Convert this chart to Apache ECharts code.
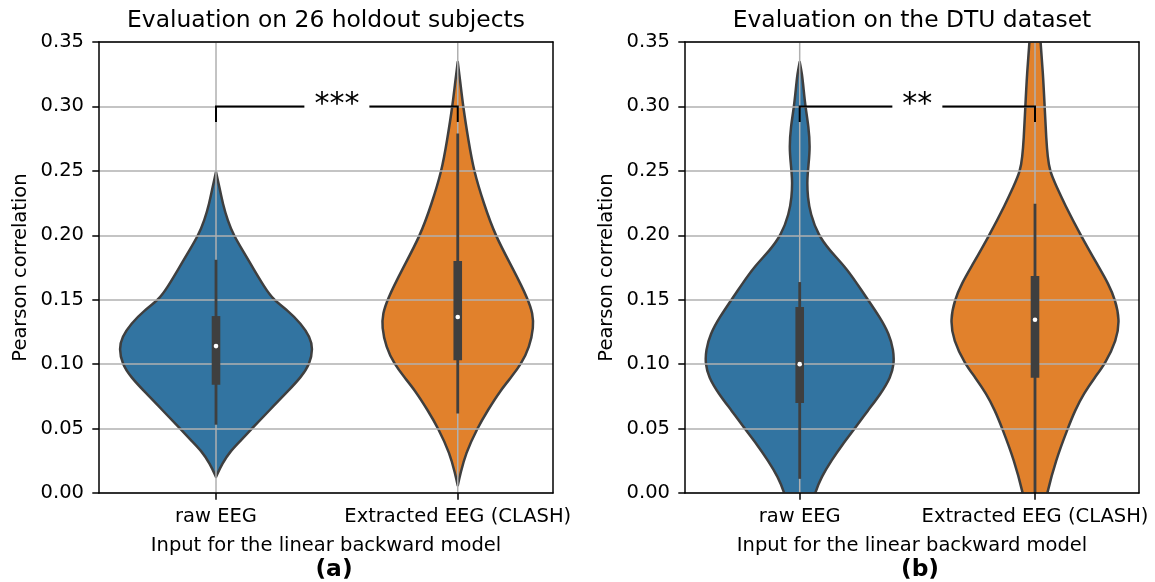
<!DOCTYPE html>
<html>
<head>
<meta charset="utf-8">
<script src="https://cdn.jsdelivr.net/npm/echarts@6/dist/echarts.min.js"></script>
<style>
html, body { margin: 0; padding: 0; background: #fff; }
#chart { width: 1155px; height: 582px; }
</style>
</head>
<body>
<div id="chart"></div>
<script>
var categories = ['raw EEG', 'Extracted EEG (CLASH)'];
var panelTitles = ['Evaluation on 26 holdout subjects', 'Evaluation on the DTU dataset'];
var panelTags = ['(a)', '(b)'];
var sigLabels = ['***', '**'];
var xName = 'Input for the linear backward model';
var yName = 'Pearson correlation';
var yMin = 0, yMax = 0.35, yStep = 0.05;
var bracketTop = 0.30, bracketFoot = 0.288;

// violin outline: [value, half width in category units]
var holdoutRaw = [[0.0124, 0], [0.0228, 0.025], [0.0331, 0.062], [0.0409, 0.103], [0.05, 0.149],
  [0.0642, 0.221], [0.0797, 0.301], [0.09, 0.352], [0.10, 0.388], [0.112, 0.401],
  [0.1211, 0.389], [0.1314, 0.352], [0.1417, 0.297], [0.15, 0.237], [0.1599, 0.200],
  [0.1728, 0.159], [0.1883, 0.110], [0.20, 0.073], [0.2116, 0.048], [0.2245, 0.028],
  [0.2375, 0.014], [0.2491, 0]];
var holdoutClash = [[0.0059, 0], [0.015, 0.011], [0.0305, 0.032], [0.05, 0.080], [0.0642, 0.124],
  [0.0797, 0.177], [0.09, 0.222], [0.10, 0.262], [0.1133, 0.297], [0.1288, 0.314],
  [0.1392, 0.310], [0.15, 0.292], [0.1728, 0.232], [0.20, 0.154], [0.2245, 0.108],
  [0.25, 0.066], [0.2737, 0.044], [0.30, 0.022], [0.3202, 0.0097], [0.3345, 0]];
var dtuRaw = [[-0.035, 0], [-0.02, 0.035], [0, 0.064], [0.0124, 0.092], [0.0253, 0.135],
  [0.0383, 0.184], [0.05, 0.234], [0.0641, 0.29], [0.0771, 0.345], [0.09, 0.387],
  [0.10, 0.401], [0.1107, 0.399], [0.1236, 0.380], [0.1366, 0.340], [0.15, 0.290],
  [0.1624, 0.244], [0.1754, 0.194], [0.1883, 0.127], [0.20, 0.079], [0.2168, 0.045],
  [0.2297, 0.034], [0.2426, 0.031], [0.2556, 0.038], [0.2685, 0.044], [0.284, 0.038],
  [0.30, 0.024], [0.3125, 0.017], [0.3254, 0.0099], [0.3345, 0]];
var dtuClash = [[-0.04, 0], [-0.02, 0.03], [0, 0.051], [0.0253, 0.088], [0.05, 0.139],
  [0.0641, 0.17], [0.0771, 0.207], [0.09, 0.255], [0.10, 0.297], [0.1185, 0.347],
  [0.1345, 0.360], [0.15, 0.341], [0.1624, 0.312], [0.1754, 0.271], [0.20, 0.194],
  [0.2245, 0.125], [0.2375, 0.092], [0.25, 0.062], [0.2608, 0.054], [0.2737, 0.048],
  [0.30, 0.041], [0.3254, 0.034], [0.3512, 0.023], [0.37, 0.016], [0.385, 0.008], [0.395, 0]];

// inner box: [lower whisker, q1, median, q3, upper whisker]
var holdoutRawBox = [0.053, 0.084, 0.114, 0.1373, 0.181];
var holdoutClashBox = [0.0616, 0.103, 0.1366, 0.180, 0.279];
var dtuRawBox = [0.011, 0.0698, 0.100, 0.1443, 0.1637];
var dtuClashBox = [-0.01, 0.0895, 0.1345, 0.1684, 0.2245];

var violins = [[holdoutRaw, holdoutClash], [dtuRaw, dtuClash]];
var boxes = [[holdoutRawBox, holdoutClashBox], [dtuRawBox, dtuClashBox]];
var colors = ['#3274a1', '#e1812c'];
var gray = '#3f3f3f';
var font = 'DejaVu Sans';

var grids = [
  { left: 99, top: 42, width: 454, height: 451 },
  { left: 685, top: 42, width: 454, height: 451 }
];
var xRanges = [[-0.484, 1.394], [-0.4875, 1.442]];

// closed cubic b-spline through the control points, written as bezier path
function splinePath(pts) {
  var n = pts.length;
  var d = '';
  for (var i = 0; i < n; i++) {
    var p0 = pts[i], p1 = pts[(i + 1) % n], p2 = pts[(i + 2) % n], p3 = pts[(i + 3) % n];
    var sx = (p0[0] + 4 * p1[0] + p2[0]) / 6, sy = (p0[1] + 4 * p1[1] + p2[1]) / 6;
    var ex = (p1[0] + 4 * p2[0] + p3[0]) / 6, ey = (p1[1] + 4 * p2[1] + p3[1]) / 6;
    if (i === 0) d += 'M' + sx + ' ' + sy;
    d += 'C' + (2 * p1[0] + p2[0]) / 3 + ' ' + (2 * p1[1] + p2[1]) / 3 + ' ' +
      (p1[0] + 2 * p2[0]) / 3 + ' ' + (p1[1] + 2 * p2[1]) / 3 + ' ' + ex + ' ' + ey;
  }
  return d + 'Z';
}

var myChart = echarts.init(document.getElementById('chart'));

var xAxis = [], yAxis = [], series = [], graphic = [];
for (var p = 0; p < 2; p++) {
  xAxis.push({
    gridIndex: p, type: 'value', min: xRanges[p][0], max: xRanges[p][1], position: 'bottom', z: 6,
    name: xName, nameLocation: 'middle', nameGap: 43,
    nameTextStyle: { fontFamily: font, fontSize: 19.5, color: '#000' },
    axisLine: { show: true, onZero: false, lineStyle: { color: '#000', width: 1.5 } },
    axisTick: { show: true, customValues: [0, 1], length: 6.7, lineStyle: { color: '#000', width: 1.5 } },
    axisLabel: { customValues: [0, 1], margin: 14, fontFamily: font, fontSize: 19.5, color: '#000',
      formatter: function (v) { return categories[Math.round(v)]; } },
    splitLine: { show: false }
  });
  xAxis.push({
    gridIndex: p, type: 'value', min: xRanges[p][0], max: xRanges[p][1], position: 'top', z: 6,
    axisLine: { show: true, onZero: false, lineStyle: { color: '#000', width: 1.5 } },
    axisTick: { show: false }, axisLabel: { show: false }, splitLine: { show: false }
  });
  yAxis.push({
    gridIndex: p, type: 'value', min: yMin, max: yMax, interval: yStep, position: 'left', z: 3,
    name: yName, nameLocation: 'middle', nameGap: 68,
    nameTextStyle: { fontFamily: font, fontSize: 19.5, color: '#000' },
    axisLine: { show: true, onZero: false, lineStyle: { color: '#000', width: 1.5 } },
    axisTick: { show: true, length: 6.7, lineStyle: { color: '#000', width: 1.5 } },
    axisLabel: { margin: 15, fontFamily: font, fontSize: 19.5, color: '#000',
      formatter: function (v) { return v.toFixed(2); } },
    splitLine: { show: true, lineStyle: { color: '#b0b0b0', width: 1.5 } }
  });
  yAxis.push({
    gridIndex: p, type: 'value', min: yMin, max: yMax, position: 'right', z: 6,
    axisLine: { show: true, onZero: false, lineStyle: { color: '#000', width: 1.5 } },
    axisTick: { show: false }, axisLabel: { show: false }, splitLine: { show: false }
  });

  (function (p) {
    // violin bodies
    series.push({
      type: 'custom', xAxisIndex: 2 * p, yAxisIndex: 2 * p, z: 2, clip: true,
      data: [[0, boxes[p][0][2]], [1, boxes[p][1][2]]],
      renderItem: function (params, api) {
        var i = params.dataIndex;
        var prof = violins[p][i];
        var last = prof.length - 1;
        var pts = [];
        var bottom = api.coord([i, prof[0][0]]), top = api.coord([i, prof[last][0]]);
        pts.push(bottom, bottom, bottom);
        for (var k = 1; k < last; k++) pts.push(api.coord([i + prof[k][1], prof[k][0]]));
        pts.push(top, top, top);
        for (var k = last - 1; k >= 1; k--) pts.push(api.coord([i - prof[k][1], prof[k][0]]));
        return {
          type: 'path',
          shape: { pathData: splinePath(pts) },
          style: { fill: colors[i], stroke: gray, lineWidth: 2.5, lineJoin: 'round' }
        };
      }
    });
    // vertical grid lines at the categories
    series.push({
      type: 'custom', xAxisIndex: 2 * p, yAxisIndex: 2 * p, z: 3, silent: true,
      data: [[0, yMin], [1, yMin]],
      renderItem: function (params, api) {
        var a = api.coord([params.dataIndex, yMin]);
        var b = api.coord([params.dataIndex, yMax]);
        return { type: 'line', shape: { x1: a[0], y1: a[1], x2: b[0], y2: b[1] },
          style: { stroke: '#b0b0b0', lineWidth: 1.5 } };
      }
    });
    // inner box plot
    series.push({
      type: 'custom', xAxisIndex: 2 * p, yAxisIndex: 2 * p, z: 4, clip: true,
      data: [[0, boxes[p][0][2]], [1, boxes[p][1][2]]],
      renderItem: function (params, api) {
        var i = params.dataIndex;
        var b = boxes[p][i];
        var w0 = api.coord([i, b[0]]), q1 = api.coord([i, b[1]]), md = api.coord([i, b[2]]);
        var q3 = api.coord([i, b[3]]), w1 = api.coord([i, b[4]]);
        return {
          type: 'group',
          children: [
            { type: 'line', shape: { x1: w0[0], y1: w0[1], x2: w1[0], y2: w1[1] },
              style: { stroke: gray, lineWidth: 2.8 } },
            { type: 'rect', shape: { x: q3[0] - 4.3, y: q3[1], width: 8.6, height: q1[1] - q3[1] },
              style: { fill: gray } },
            { type: 'circle', shape: { cx: md[0], cy: md[1], r: 2.3 }, style: { fill: '#fff' } }
          ]
        };
      }
    });
    // significance bracket
    series.push({
      type: 'custom', xAxisIndex: 2 * p, yAxisIndex: 2 * p, z: 5,
      data: [[0.5, bracketTop]],
      renderItem: function (params, api) {
        var a = api.coord([0, bracketFoot]), b = api.coord([0, bracketTop]);
        var c = api.coord([1, bracketTop]), d = api.coord([1, bracketFoot]);
        var m = api.coord([0.5, bracketTop]);
        return {
          type: 'group',
          children: [
            { type: 'polyline', shape: { points: [a, b, c, d] },
              style: { stroke: '#000', lineWidth: 2, fill: null } },
            { type: 'text', x: m[0], y: m[1] - 1, style: { text: sigLabels[p], fontFamily: font, fontSize: 30,
              fill: '#000', align: 'center', verticalAlign: 'middle', backgroundColor: '#fff', padding: [0, 10] } }
          ]
        };
      }
    });
  })(p);

  var cx = grids[p].left + grids[p].width / 2;
  graphic.push({ type: 'text', x: cx, y: 21, style: { text: panelTitles[p], fontFamily: font, fontSize: 23.4,
    fill: '#000', align: 'center', verticalAlign: 'middle' } });
  graphic.push({ type: 'text', x: cx + 8, y: 570, style: { text: panelTags[p], fontFamily: font, fontSize: 23.4,
    fontWeight: 'bold', fill: '#000', align: 'center', verticalAlign: 'middle' } });
}

var option = {
  animation: false,
  backgroundColor: '#fff',
  grid: grids,
  xAxis: xAxis,
  yAxis: yAxis,
  series: series,
  graphic: graphic
};
myChart.setOption(option);
</script>
</body>
</html>
